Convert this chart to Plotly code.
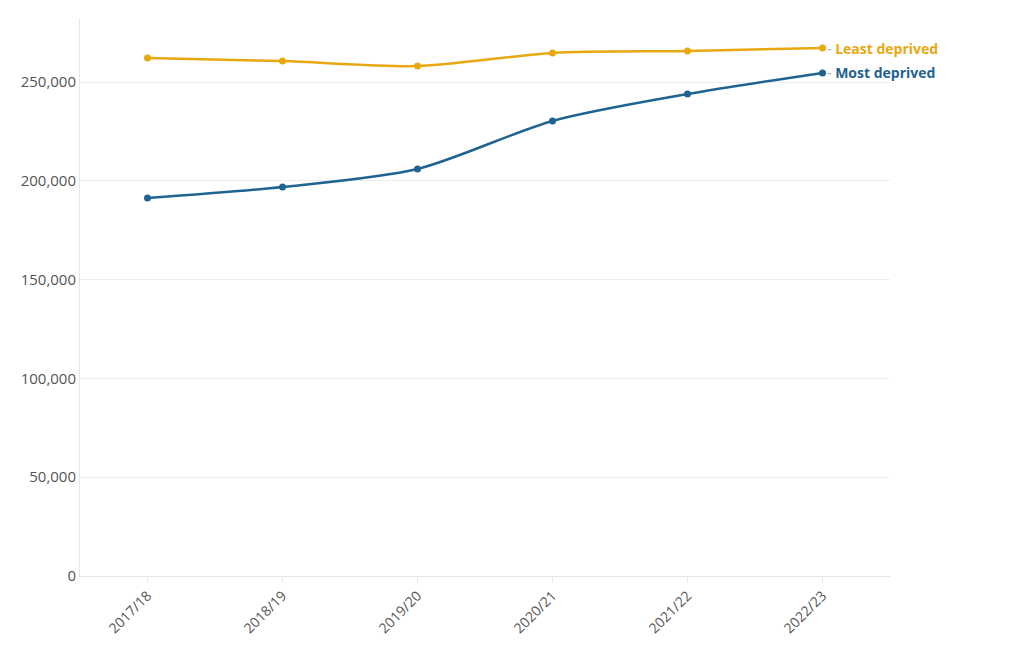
import plotly.graph_objects as go

years = ["2017/18", "2018/19", "2019/20", "2020/21", "2021/22", "2022/23"]
least_deprived = [262100, 260600, 258100, 264700, 265700, 267200]
most_deprived = [191300, 196900, 206000, 230300, 243900, 254600]

gold = "#E8A80F"
blue = "#1F6391"

fig = go.Figure()
for name, vals, col in [("Least deprived", least_deprived, gold),
                        ("Most deprived", most_deprived, blue)]:
    fig.add_trace(go.Scatter(
        x=years, y=vals, mode="lines+markers", name=name,
        line=dict(color=col, width=2.5, shape="spline", smoothing=0.8),
        marker=dict(color=col, size=7),
        hovertemplate="%{x}: %{y:,}<extra>" + name + "</extra>",
    ))
    fig.add_annotation(
        x=years[-1], y=vals[-1], xref="x", yref="y",
        text="<span style='color:#aaaaaa;font-weight:normal'>-</span> <b>" + name + "</b>",
        showarrow=False, xanchor="left", yanchor="middle", xshift=2,
        font=dict(family="Open Sans", size=14, color=col),
    )

fig.update_layout(
    width=1020, height=650,
    margin=dict(l=80, r=130, t=18, b=74),
    paper_bgcolor="white", plot_bgcolor="white",
    showlegend=False,
    font=dict(family="Open Sans", size=15, color="#555555"),
    xaxis=dict(
        type="category", range=[-0.5, 5.5], tickangle=-45,
        showgrid=False, showline=True, linecolor="#e6e6e6", linewidth=1,
        ticks="outside", ticklen=5, tickcolor="#e6e6e6",
        tickfont=dict(size=14, color="#555555"),
    ),
    yaxis=dict(
        range=[0, 282400], tickvals=[0, 50000, 100000, 150000, 200000, 250000],
        tickformat=",", showgrid=True, gridcolor="#eeeeee", gridwidth=1,
        showline=True, linecolor="#e6e6e6", linewidth=1, zeroline=False,
        ticks="", tickfont=dict(size=15, color="#555555"),
    ),
)

fig.write_html("out.html")
